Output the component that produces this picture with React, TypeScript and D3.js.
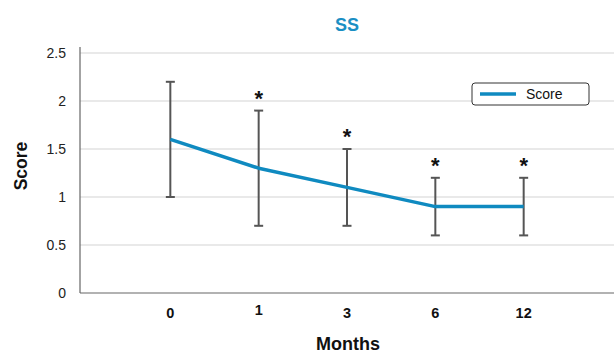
import React from "react";
import * as d3 from "d3";

const months = ["0", "1", "3", "6", "12"];
const means = [1.6, 1.3, 1.1, 0.9, 0.9];
const lower = [1.0, 0.7, 0.7, 0.6, 0.6];
const upper = [2.2, 1.9, 1.5, 1.2, 1.2];
const significant = [false, true, true, true, true];
const yTicks = [0, 0.5, 1, 1.5, 2, 2.5];
const yTickLabels = ["0", "0.5", "1", "1.5", "2", "2.5"];

const W = 614;
const H = 354;
const left = 80;
const right = 614;
const top = 53;
const bottom = 293;
const font = "Liberation Sans, Arial, Helvetica, sans-serif";

export default function App() {
  const x = d3.scalePoint<string>().domain(months).range([82, 612]).padding(1);
  const y = d3.scaleLinear().domain([0, 2.5]).range([bottom, top]);
  const line = d3
    .line<number>()
    .x((_, i) => x(months[i]) as number)
    .y((d) => y(d));
  const cap = 4.5;

  return (
    <svg
      width={W}
      height={H}
      style={{ position: "absolute", left: 0, top: 0, background: "#fff" }}
      fontFamily={font}
    >
      <text x={347} y={31} textAnchor="middle" fontSize={18} fontWeight="bold" fill="#1a8fc4">
        SS
      </text>
      {yTicks.map((t, i) => (
        <g key={t}>
          {t > 0 && (
            <line x1={left} x2={right} y1={y(t)} y2={y(t)} stroke="#d3d3d3" strokeWidth={1} />
          )}
          <text x={66} y={y(t)} dy="0.35em" textAnchor="end" fontSize={14} fill="#222">
            {yTickLabels[i]}
          </text>
        </g>
      ))}
      <line x1={left} x2={left} y1={top - 6} y2={bottom} stroke="#666" strokeWidth={1.2} />
      <line x1={left} x2={right} y1={bottom} y2={bottom} stroke="#666" strokeWidth={1.2} />
      {months.map((m, i) => (
        <text
          key={m}
          x={x(m)}
          y={i === 1 ? 315 : 318}
          textAnchor="middle"
          fontSize={14.5}
          fontWeight="bold"
          fill="#111"
        >
          {m}
        </text>
      ))}
      <text x={348} y={350} textAnchor="middle" fontSize={18} fontWeight="bold" fill="#111">
        Months
      </text>
      <text
        transform={`translate(27,166) rotate(-90)`}
        textAnchor="middle"
        fontSize={17.5}
        fontWeight="bold"
        fill="#111"
      >
        Score
      </text>
      {months.map((m, i) => {
        const cx = x(m) as number;
        return (
          <g key={"e" + m} stroke="#555" strokeWidth={2}>
            <line x1={cx} x2={cx} y1={y(lower[i])} y2={y(upper[i])} />
            <line x1={cx - cap} x2={cx + cap} y1={y(lower[i])} y2={y(lower[i])} />
            <line x1={cx - cap} x2={cx + cap} y1={y(upper[i])} y2={y(upper[i])} />
          </g>
        );
      })}
      <path d={line(means) || ""} fill="none" stroke="#0f8ac0" strokeWidth={3.5} strokeLinejoin="round" />
      {months.map((m, i) =>
        significant[i] ? (
          <text
            key={"s" + m}
            x={x(m)}
            y={y(upper[i]) - 5}
            textAnchor="middle"
            fontSize={22}
            fontWeight="bold"
            fill="#111"
          >
            *
          </text>
        ) : null
      )}
      <g>
        <rect x={472} y={83} width={117} height={22} rx={3} fill="#fff" stroke="#333" strokeWidth={1} />
        <line x1={480} x2={516} y1={94} y2={94} stroke="#0f8ac0" strokeWidth={3.5} />
        <text x={526} y={94} dy="0.35em" fontSize={14} fill="#111">
          Score
        </text>
      </g>
    </svg>
  );
}
